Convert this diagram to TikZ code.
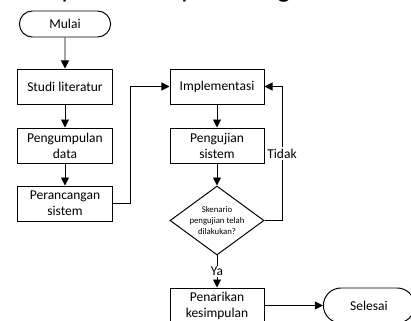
\documentclass[tikz,border=0pt]{standalone}
\usepackage{fontspec}
\setmainfont{Carlito}
\usetikzlibrary{arrows.meta,positioning,shapes.geometric,shapes.misc}
\tikzset{block/.style={draw=black,line width=0.7pt,align=center,minimum width=2.35cm,minimum height=0.875cm,inner sep=1pt,font=\fontsize{9.6}{11.4}\selectfont},term/.style={block,rounded rectangle,rounded rectangle arc length=180},decision/.style={draw=black,line width=0.7pt,diamond,aspect=1.36,inner sep=0pt,align=center,minimum width=2.35cm,minimum height=1.72cm,font=\fontsize{6.2}{8}\selectfont},edge/.style={-{Triangle[length=2mm,width=2mm]},line width=0.7pt,draw=black},lbl/.style={fill=white,inner sep=1pt,font=\fontsize{9.6}{11.4}\selectfont}}
\begin{document}
\begin{tikzpicture}[x=0.025cm,y=-0.025cm]
\useasboundingbox (0,0) rectangle (411,320);
\clip (0,0) rectangle (411,320);
\node[anchor=base west,inner sep=0pt,font=\fontsize{19.7}{23}\selectfont] (cap) at(0,-2){ini dapat dilihat pada diagram alir 3.1.};
\node[term,minimum height=0.65cm] (mulai) at(65,24){Mulai};
\node[block] (studi) at(65,86.5){Studi literatur};
\node[block] (kumpul) at(65,145.5){Pengumpulan\\data};
\node[block] (rancang) at(65,203.5){Perancangan\\sistem};
\node[block] (impl) at(217,86.5){Implementasi};
\node[block] (uji) at(217,145.5){Pengujian\\sistem};
\node[decision] (cek) at(217,220.5){Skenario\\pengujian telah\\dilakukan?};
\node[block] (tarik) at(217,305.5){Penarikan\\kesimpulan};
\node[term] (selesai) at(369,305.5){Selesai};
\draw[edge](mulai)--(studi);
\draw[edge](studi)--(kumpul);
\draw[edge](kumpul)--(rancang);
\draw[edge](rancang.east)--++(17.5,0)|-(impl.west);
\draw[edge](impl)--(uji);
\draw[edge](uji)--(cek);
\draw[edge](cek.east)--++(17.5,0)|-node[lbl,pos=0.25]{Tidak}(impl.east);
\draw[edge](cek.south)--node[lbl]{Ya}(tarik);
\draw[edge](tarik)--(selesai);
\end{tikzpicture}
\end{document}
